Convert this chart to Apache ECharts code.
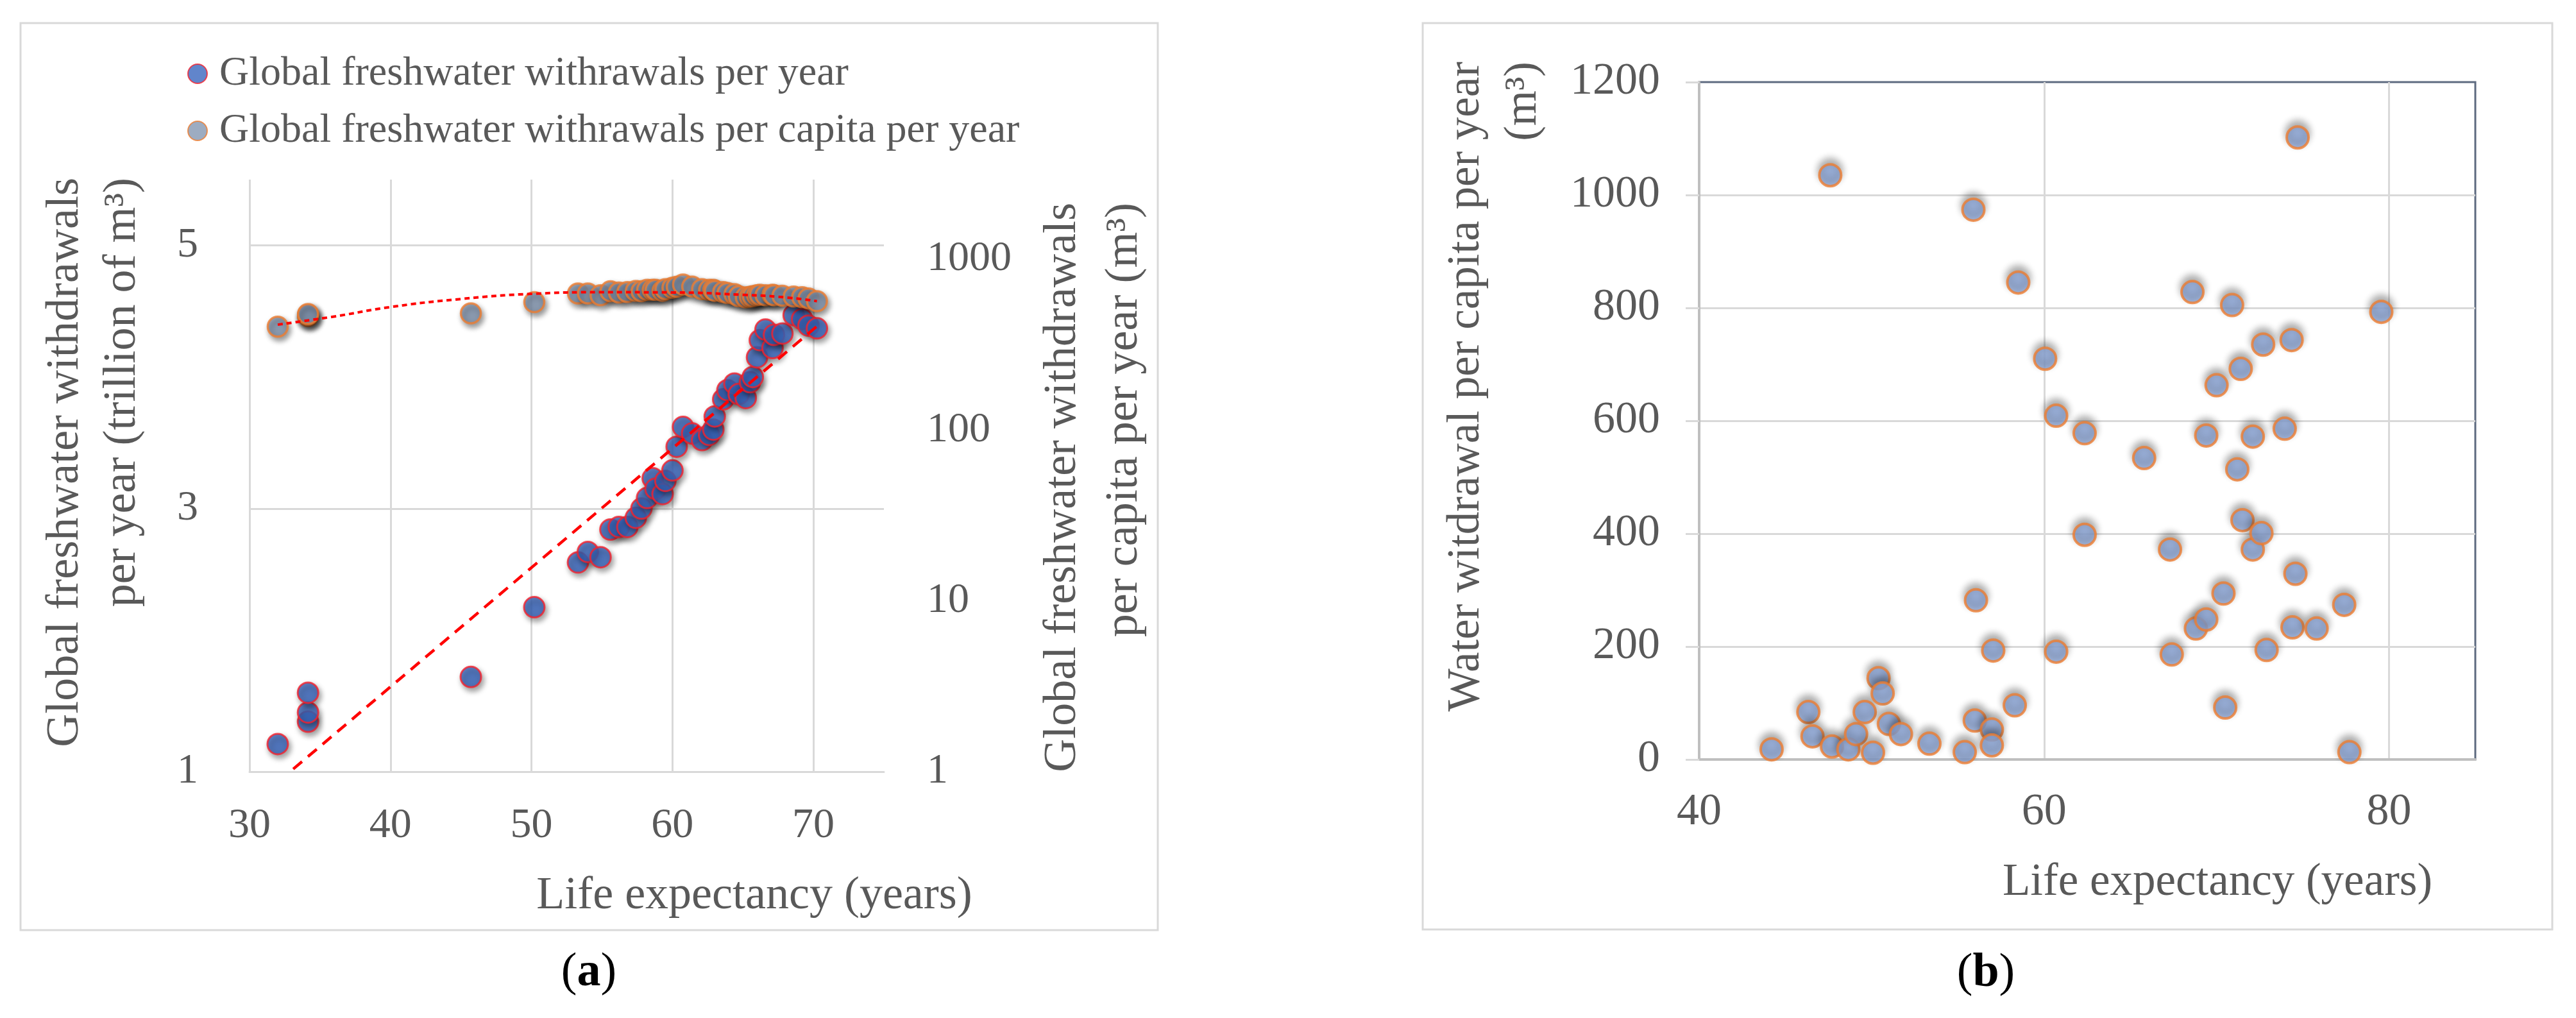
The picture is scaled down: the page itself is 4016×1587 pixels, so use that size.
<!DOCTYPE html>
<html>
<head>
<meta charset="utf-8">
<title>Freshwater withdrawals and life expectancy</title>
<script src="https://cdn.jsdelivr.net/npm/echarts@6.0.0/dist/echarts.min.js"></script>
<style>
  html, body { margin: 0; padding: 0; background: #fff; }
  #chart { width: 4016px; height: 1587px; }
</style>
</head>
<body>
<div id="chart"></div>
<script>
// ---- panel (a): world totals, x = life expectancy (years) ----
var lifeExpA = [32.0, 34.15, 34.15, 34.15, 45.7, 50.2, 53.3, 54.0, 54.9, 55.6, 56.2, 56.8, 57.4, 57.8, 58.2,
  58.6, 58.8, 59.3, 59.5, 60.0, 60.3, 60.75, 61.4, 62.1, 62.6, 62.9, 63.0, 63.6, 63.9, 64.4, 64.7, 65.2,
  65.5, 65.7, 66.0, 66.2, 66.6, 67.1, 67.2, 67.8, 68.6, 69.2, 69.65, 70.25];
// trillion m3 per year (left axis)
var withdrawalsA = [1.21, 1.38, 1.45, 1.60, 1.72, 2.25, 2.59, 2.67, 2.63, 2.84, 2.86, 2.86, 2.93, 3.00, 3.08,
  3.23, 3.15, 3.11, 3.21, 3.29, 3.47, 3.62, 3.57, 3.52, 3.56, 3.60, 3.70, 3.83, 3.90, 3.95, 3.87, 3.84,
  3.96, 4.00, 4.15, 4.28, 4.36, 4.22, 4.32, 4.33, 4.47, 4.44, 4.39, 4.37];
// m3 per capita per year (right log axis)
var perCapitaA = [403, 465, 472, 478, 482, 561, 630, 630, 615, 649, 638, 643, 653, 649, 662,
  662, 662, 653, 668, 681, 690, 711, 691, 668, 662, 662, 653, 643, 634, 625, 607, 598,
  603, 607, 615, 620, 615, 620, 615, 611, 605, 600, 590, 568];

// trendlines
var linearTrendX = [33.1, 70.3];
var linearTrendY = [1.02, 4.39];
var polyTrendX = [32, 36, 40, 45, 50, 55, 60, 65, 68, 70.25];
var polyTrendY = [414, 462, 525, 585, 627, 641, 639, 619, 598, 568];

// ---- panel (b): countries ----
var lifeExpB = [44.2, 46.33, 46.57, 47.6, 47.7, 48.65, 49.1, 49.6, 50.08, 50.4, 50.64, 51.0, 51.7, 53.35,
  55.4, 55.9, 55.98, 56.05, 56.97, 56.97, 57.05, 58.3, 58.5, 60.06, 60.7, 60.7, 62.35, 62.35, 65.8, 67.3,
  67.4, 68.6, 68.8, 69.4, 69.4, 70.0, 70.4, 70.5, 70.9, 71.2, 71.4, 71.5, 72.1, 72.1, 72.6, 72.7, 72.9,
  73.95, 74.35, 74.4, 74.57, 74.7, 75.8, 77.4, 77.7, 79.55];
var withdrawalB = [18, 84, 41, 1035, 23, 18, 45, 84, 12, 144, 117, 63, 45, 28,
  13, 974, 69, 282, 53, 25, 193, 96, 845, 710, 609, 191, 578, 398, 534, 372,
  186, 828, 232, 248, 574, 663, 294, 92, 805, 514, 692, 424, 572, 372, 401, 735, 194,
  586, 743, 234, 329, 1102, 232, 274, 13, 793];

// tick labels
var yTicksLeftA = [1, 3, 5];

function pairs(xs, ys) {
  return xs.map(function (x, i) { return [x, ys[i]]; });
}

var SERIF = "'Liberation Serif', 'Times New Roman', serif";
var TEXT = '#595959';
var GRID_LINE = '#D9D9D9';
var NAME_A1 = 'Global freshwater withrawals per year';
var NAME_A2 = 'Global freshwater withrawals per capita per year';

var myChart = echarts.init(document.getElementById('chart'));

var option = {
  animation: false,
  backgroundColor: '#fff',
  grid: [
    { left: 389, top: 280, width: 989, height: 923 },
    { left: 2649, top: 128, width: 1210, height: 1056, show: true,
      borderColor: '#5E6B80', borderWidth: 3, backgroundColor: 'transparent' }
  ],
  legend: {
    left: 287, top: 78, orient: 'vertical', itemGap: 25,
    itemWidth: 30, itemHeight: 30, icon: 'circle',
    data: [NAME_A1, NAME_A2],
    textStyle: { fontFamily: SERIF, fontSize: 64, color: TEXT, padding: [0, 0, 0, 14] }
  },
  xAxis: [
    { type: 'value', gridIndex: 0, min: 30, max: 75, interval: 10,
      axisLine: { show: true, lineStyle: { color: GRID_LINE, width: 3 } },
      axisTick: { show: false },
      axisLabel: { fontFamily: SERIF, fontSize: 66, color: TEXT, margin: 52, showMaxLabel: false },
      splitLine: { show: true, showMaxLine: false, lineStyle: { color: GRID_LINE, width: 3 } } },
    { type: 'value', gridIndex: 1, min: 40, max: 85, interval: 20,
      axisLine: { show: true, lineStyle: { color: '#BFBFBF', width: 4 } },
      axisTick: { show: false },
      axisLabel: { fontFamily: SERIF, fontSize: 70, color: TEXT, margin: 48, showMaxLabel: false },
      splitLine: { show: true, showMinLine: false, showMaxLine: false, lineStyle: { color: GRID_LINE, width: 3 } } }
  ],
  yAxis: [
    { type: 'value', gridIndex: 0, min: 1, max: 5.5,
      axisLine: { show: false },
      axisTick: { show: false, customValues: yTicksLeftA },
      axisLabel: { customValues: yTicksLeftA, fontFamily: SERIF, fontSize: 66, color: TEXT, margin: 80 },
      splitLine: { show: true, lineStyle: { color: GRID_LINE, width: 3 } } },
    { type: 'log', gridIndex: 0, position: 'right', min: 1, max: 2925, logBase: 10,
      axisLine: { show: false }, axisTick: { show: false }, splitLine: { show: false },
      minorTick: { show: false },
      axisLabel: { fontFamily: SERIF, fontSize: 66, color: TEXT, margin: 67, showMaxLabel: false,
        formatter: function (v) { return String(Math.round(v)); } } },
    { type: 'value', gridIndex: 1, min: 0, max: 1200, interval: 200,
      axisLine: { show: true, lineStyle: { color: '#BFBFBF', width: 4 } },
      axisTick: { show: true, length: 21, lineStyle: { color: GRID_LINE, width: 3 } },
      axisLabel: { fontFamily: SERIF, fontSize: 70, color: TEXT, margin: 61,
        formatter: function (v) { return String(v); } },
      splitLine: { show: true, showMinLine: false, showMaxLine: false, lineStyle: { color: GRID_LINE, width: 3 } } }
  ],
  series: [
    { name: NAME_A1, type: 'scatter', xAxisIndex: 0, yAxisIndex: 0, z: 2,
      data: pairs(lifeExpA, withdrawalsA), symbolSize: 32,
      itemStyle: { color: '#3A66BE', borderColor: '#F5222D', borderWidth: 3,
        shadowBlur: 8, shadowColor: 'rgba(0,0,0,0.45)', shadowOffsetX: 3, shadowOffsetY: 5 } },
    { name: NAME_A2, type: 'scatter', xAxisIndex: 0, yAxisIndex: 1, z: 3,
      data: pairs(lifeExpA, perCapitaA), symbolSize: 31,
      itemStyle: { color: '#8597B1', borderColor: '#ED7D31', borderWidth: 3.5,
        shadowBlur: 8, shadowColor: 'rgba(0,0,0,0.5)', shadowOffsetX: 3, shadowOffsetY: 5 } },
    { name: 'linear trend', type: 'line', xAxisIndex: 0, yAxisIndex: 0, z: 4, silent: true,
      data: pairs(linearTrendX, linearTrendY), symbol: 'none',
      lineStyle: { color: '#FF0000', width: 4.5, type: [18, 12] } },
    { name: 'polynomial trend', type: 'line', xAxisIndex: 0, yAxisIndex: 1, z: 4, silent: true,
      data: pairs(polyTrendX, polyTrendY), symbol: 'none', smooth: true,
      lineStyle: { color: '#FF0000', width: 4, type: [8, 6] } },
    { name: 'Water witdrawal per capita per year', type: 'scatter', xAxisIndex: 1, yAxisIndex: 2,
      data: pairs(lifeExpB, withdrawalB), symbolSize: 34,
      itemStyle: { color: '#8EA9DB', borderColor: '#ED7D31', borderWidth: 4,
        shadowBlur: 12, shadowColor: 'rgba(0,0,0,0.4)', shadowOffsetY: -7 } }
  ],
  graphic: [
    // panel frames
    { type: 'rect', silent: true, z: 0, shape: { x: 32, y: 36, width: 1773, height: 1414 },
      style: { fill: 'none', stroke: GRID_LINE, lineWidth: 3 } },
    { type: 'rect', silent: true, z: 0, shape: { x: 2218, y: 36, width: 1761, height: 1413 },
      style: { fill: 'none', stroke: GRID_LINE, lineWidth: 3 } },
    // axis titles, panel (a)
    { type: 'text', silent: true, x: 58, y: 277, rotation: Math.PI / 2,
      style: { text: 'Global freshwater withdrawals\nper year (trillion of m³)',
        font: '72px ' + SERIF, fill: TEXT, lineHeight: 89,
        align: 'right', verticalAlign: 'top', textAlign: 'right', textVerticalAlign: 'top' } },
    { type: 'text', silent: true, x: 1609, y: 316, rotation: Math.PI / 2,
      style: { text: 'Global freshwater withdrawals\nper capita per year (m³)',
        font: '72px ' + SERIF, fill: TEXT, lineHeight: 96,
        align: 'right', verticalAlign: 'top', textAlign: 'right', textVerticalAlign: 'top' } },
    { type: 'text', silent: true, x: 1176, y: 1397,
      style: { text: 'Life expectancy (years)', font: '72px ' + SERIF, fill: TEXT,
        align: 'center', verticalAlign: 'middle', textAlign: 'center', textVerticalAlign: 'middle' } },
    // axis titles, panel (b)
    { type: 'text', silent: true, x: 2242, y: 96, rotation: Math.PI / 2,
      style: { text: 'Water witdrawal per capita per year\n(m³)',
        font: '71px ' + SERIF, fill: TEXT, lineHeight: 89,
        align: 'right', verticalAlign: 'top', textAlign: 'right', textVerticalAlign: 'top' } },
    { type: 'text', silent: true, x: 3457, y: 1376,
      style: { text: 'Life expectancy (years)', font: '71px ' + SERIF, fill: TEXT,
        align: 'center', verticalAlign: 'middle', textAlign: 'center', textVerticalAlign: 'middle' } },
    // panel captions
    { type: 'text', silent: true, x: 918, y: 1517,
      style: { text: '{p|(}{b|a}{p|)}', align: 'center', verticalAlign: 'middle',
        textAlign: 'center', textVerticalAlign: 'middle',
        rich: { p: { fontFamily: SERIF, fontSize: 74, fill: '#000' },
                b: { fontFamily: SERIF, fontSize: 74, fontWeight: 'bold', fill: '#000' } } } },
    { type: 'text', silent: true, x: 3096, y: 1518,
      style: { text: '{p|(}{b|b}{p|)}', align: 'center', verticalAlign: 'middle',
        textAlign: 'center', textVerticalAlign: 'middle',
        rich: { p: { fontFamily: SERIF, fontSize: 74, fill: '#000' },
                b: { fontFamily: SERIF, fontSize: 74, fontWeight: 'bold', fill: '#000' } } } }
  ]
};

myChart.setOption(option);
</script>
</body>
</html>
